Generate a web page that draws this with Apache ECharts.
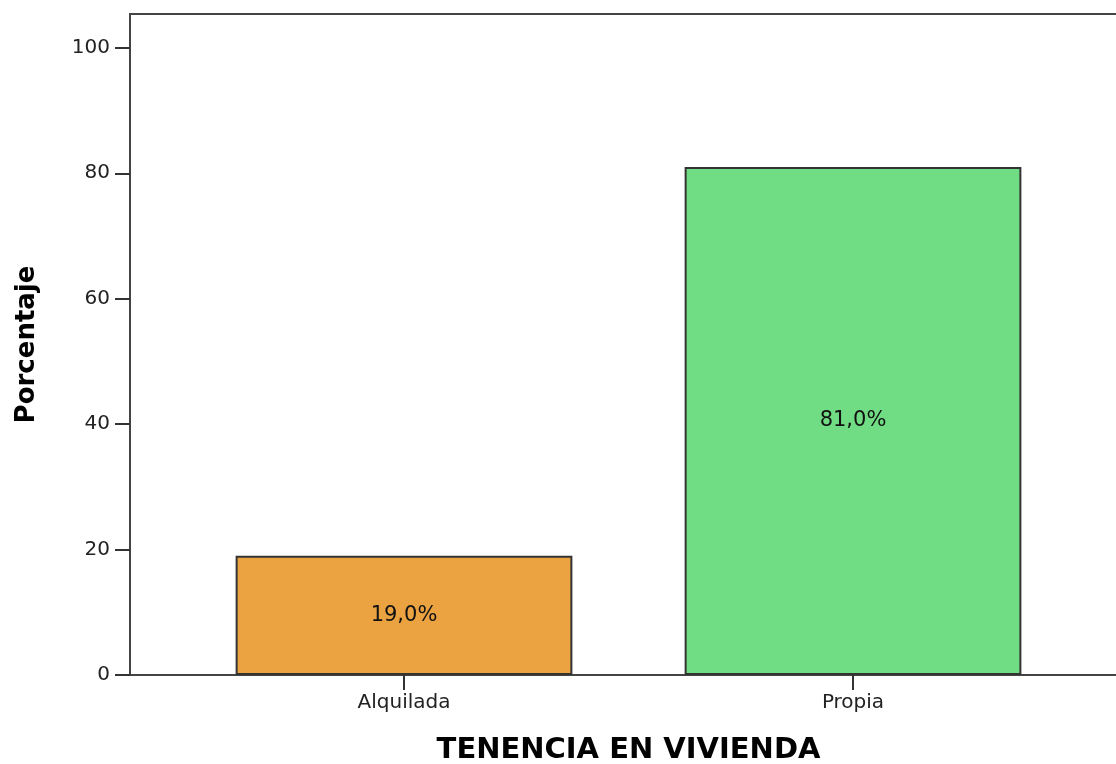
<!DOCTYPE html>
<html>
<head>
<meta charset="utf-8">
<script src="https://cdn.jsdelivr.net/npm/echarts@6/dist/echarts.min.js"></script>
<style>
  html, body { margin: 0; padding: 0; background: #fff; }
  #chart { width: 1116px; height: 764px; }
</style>
</head>
<body>
<div id="chart"></div>
<script>
var categories = ['Alquilada', 'Propia']
var percentages = [19.0, 81.0]
var barColors = ['#eba342', '#70dc84']
var yTicks = [0, 20, 40, 60, 80, 100]

var chart = echarts.init(document.getElementById('chart'))

var option = {
  animation: false,
  textStyle: { fontFamily: 'DejaVu Sans, sans-serif' },
  grid: [
    // marco (ejes izquierdo, inferior y superior)
    { left: 130, top: 14, right: -30, bottom: 89, outerBoundsMode: 'none', show: true, borderColor: '#444', borderWidth: 2, backgroundColor: 'transparent' },
    // barras
    { left: 179.5, top: 14, right: 38.5, bottom: 89, outerBoundsMode: 'none' }
  ],
  xAxis: [
    { gridIndex: 0, type: 'value', show: false, min: 0, max: 1 },
    {
      gridIndex: 1,
      type: 'category',
      data: categories,
      boundaryGap: true,
      name: 'TENENCIA EN VIVIENDA',
      nameLocation: 'middle',
      nameGap: 61,
      nameTextStyle: { fontSize: 29, fontWeight: 'bold', color: '#000' },
      axisLine: { show: false },
      axisTick: { show: true, alignWithLabel: true, length: 15, lineStyle: { color: '#333', width: 2 } },
      axisLabel: { fontSize: 20, color: '#222', margin: 18 }
    }
  ],
  yAxis: [
    { gridIndex: 0, type: 'value', show: false, min: 0, max: 1 },
    {
      gridIndex: 1,
      type: 'value',
      min: 0,
      max: 105.4,
      interval: 20,
      offset: 49.5,
      name: 'Porcentaje',
      nameLocation: 'middle',
      nameGap: 90,
      nameTextStyle: { fontSize: 26, fontWeight: 'bold', color: '#000' },
      axisLine: { show: false },
      splitLine: { show: false },
      axisTick: { show: true, length: 15, customValues: yTicks, lineStyle: { color: '#333', width: 2 } },
      axisLabel: { fontSize: 20, color: '#222', margin: 20, customValues: yTicks }
    }
  ],
  series: [{
    type: 'bar',
    xAxisIndex: 1,
    yAxisIndex: 1,
    barWidth: '75%',
    data: percentages.map(function (v, i) {
      return { value: v, itemStyle: { color: barColors[i] } }
    }),
    itemStyle: { borderColor: '#333', borderWidth: 2 },
    label: {
      show: true,
      position: 'inside',
      fontSize: 21,
      color: '#111',
      formatter: function (p) { return p.value.toFixed(1).replace('.', ',') + '%' }
    }
  }]
}

chart.setOption(option)
</script>
</body>
</html>
